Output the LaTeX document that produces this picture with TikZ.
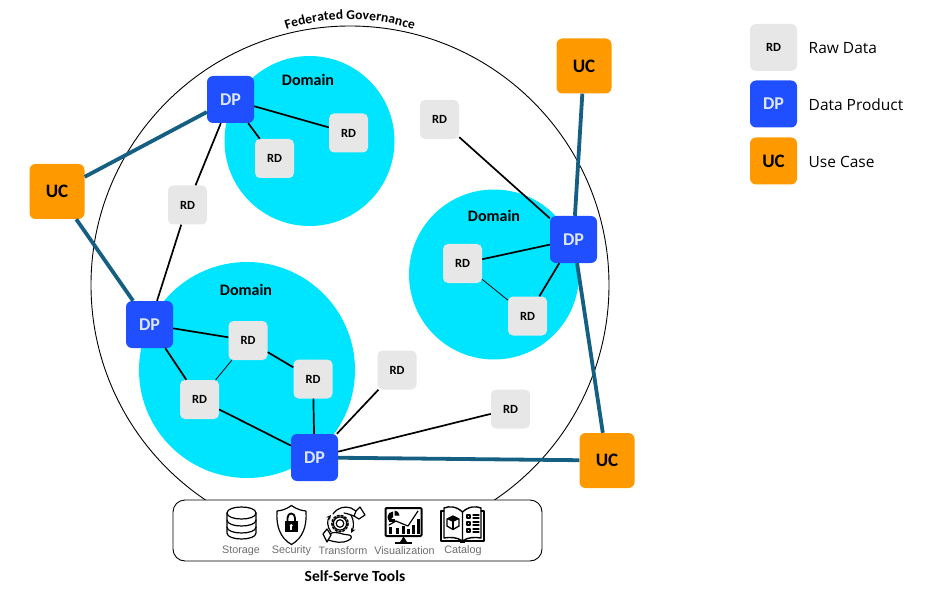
\documentclass[tikz,border=0pt]{standalone}
\usepackage{fontspec}
\setmainfont{Carlito}
\newfontfamily\legendfont{Open Sans}
\newfontfamily\iconfont{Liberation Sans}
\usetikzlibrary{decorations.text,positioning}
\definecolor{rdgray}{HTML}{E7E7E7}
\definecolor{dpblue}{HTML}{1F4FFF}
\definecolor{dptext}{HTML}{DCE6F5}
\definecolor{ucorange}{HTML}{FF9900}
\definecolor{domcyan}{HTML}{00E5FF}
\definecolor{linkteal}{HTML}{156082}
\definecolor{icongray}{HTML}{6E6E6E}
\tikzset{
  rdbox/.style={fill=rdgray,rounded corners=5pt,minimum size=39pt,inner sep=0pt,font=\bfseries\fontsize{12.5}{12.5}\selectfont},
  dpbox/.style={fill=dpblue,text=dptext,rounded corners=6pt,minimum size=47pt,inner sep=0pt,font=\bfseries\fontsize{18}{18}\selectfont},
  ucbox/.style={fill=ucorange,rounded corners=6pt,minimum size=55pt,inner sep=0pt,font=\bfseries\fontsize{19}{19}\selectfont},
  lgrd/.style={rdbox,minimum size=47pt,rounded corners=6pt},
  lguc/.style={ucbox,minimum size=47pt},
  lgtext/.style={anchor=west,inner sep=0pt,font=\legendfont\fontsize{15.5}{15.5}\selectfont},
  domtitle/.style={inner sep=0pt,font=\bfseries\fontsize{16}{16}\selectfont},
  domdisc/.style={fill=domcyan,circle,inner sep=0pt},
  thinlink/.style={line width=.8pt},
  datalink/.style={line width=1.7pt},
  uselink/.style={linkteal,line width=3.8pt},
  iconlabel/.style={inner sep=0pt,text=icongray,font=\iconfont\fontsize{10.8}{10.8}\selectfont},
  icn/.style={line width=1.2pt,line join=round,line cap=round}
}
\begin{document}
\begin{tikzpicture}[x=1pt,y=-1pt]
\useasboundingbox (0,0) rectangle (929,604);
% governance circle
\node[draw,circle,line width=.9pt,minimum size=518pt,inner sep=0pt] (gov) at (350,285) {};
\path[decorate,decoration={text along path,text align=center,raise=2.5pt,
  text={|\bfseries\fontsize{13.5}{13.5}\selectfont|Federated Governance}}]
  (276,36) .. controls (325,17) and (375,17) .. (424,36);
% domains
\node[domdisc,minimum size=170pt] (domA) at (309.5,141) {};
\node[domdisc,minimum size=170pt] (domB) at (494,274.5) {};
\node[domdisc,minimum size=216pt] (domC) at (247,370) {};
\node[domtitle] (tA) at (308,80) {Domain};
\node[domtitle] (tB) at (494,216) {Domain};
\node[domtitle] (tC) at (246,290) {Domain};
% nodes
\node[rdbox] (r1) at (348.5,133) {RD};
\node[rdbox] (r2) at (274.5,158.5) {RD};
\node[rdbox] (r3) at (187.5,205) {RD};
\node[rdbox] (r4) at (439.5,119.5) {RD};
\node[rdbox] (r5) at (462.5,263.5) {RD};
\node[rdbox] (r6) at (527.5,316) {RD};
\node[rdbox] (r7) at (248,340.5) {RD};
\node[rdbox] (r8) at (313,379) {RD};
\node[rdbox] (r9) at (199.5,399.5) {RD};
\node[rdbox] (r10) at (397,370) {RD};
\node[rdbox] (r11) at (510.5,409) {RD};
\node[dpbox] (d1) at (230.5,99.5) {DP};
\node[dpbox] (d2) at (573.5,239.5) {DP};
\node[dpbox] (d3) at (149.5,324.5) {DP};
\node[dpbox] (d4) at (314.5,457.5) {DP};
\node[ucbox] (u1) at (57,191.5) {UC};
\node[ucbox] (u2) at (584,66) {UC};
\node[ucbox] (u3) at (607,460.5) {UC};
% links
\draw[datalink] (d1)--(r1);
\draw[datalink] (d1)--(r2);
\draw[datalink] (d1)--(r3);
\draw[datalink] (r3)--(d3);
\draw[datalink] (r4)--(d2);
\draw[datalink] (d2)--(r5);
\draw[datalink] (d2)--(r6);
\draw[thinlink] (r5)--(r6);
\draw[datalink] (d3)--(r7);
\draw[datalink] (d3)--(r9);
\draw[datalink] (r7)--(r8);
\draw[thinlink] (r7)--(r9);
\draw[datalink] (r8)--(d4);
\draw[datalink] (r9)--(d4);
\draw[datalink] (d4)--(r10);
\draw[datalink] (d4)--(r11);
\draw[uselink] (u1)--(d1);
\draw[uselink] (u1)--(d3);
\draw[uselink] (u2)--(d2);
\draw[uselink] (d2)--(u3);
\draw[uselink] (d4)--(u3);
% tools box
\node[draw,fill=white,line width=.9pt,rounded corners=12pt,minimum width=369pt,minimum height=61pt,inner sep=0pt] (tools) at (357.5,530.5) {};
\node[inner sep=0pt,font=\bfseries\fontsize{15.5}{15.5}\selectfont] (toolstitle) at (355,576) {Self-Serve Tools};
\node[iconlabel] (l1) at (241,551) {Storage};
\node[iconlabel] (l2) at (291.5,551) {Security};
\node[iconlabel] (l3) at (343,551) {Transform};
\node[iconlabel] (l4) at (404.5,551) {Visualization};
\node[iconlabel] (l5) at (463,551) {Catalog};
\begin{scope}[icn]
% storage icon
\draw (227,513) .. controls (227,505) and (256,505) .. (256,513) .. controls (256,521) and (227,521) .. (227,513);
\draw (227,513) -- (227,533) .. controls (227,541) and (256,541) .. (256,533) -- (256,513);
\draw (227,520) .. controls (227,528) and (256,528) .. (256,520);
\draw (227,527) .. controls (227,535) and (256,535) .. (256,527);
% shield icon
\draw (291.5,505.5) .. controls (285,510) and (281,510.5) .. (277,511) .. controls (276,526) and (280,538) .. (291.5,544.5) .. controls (303,538) and (307,526) .. (306,511) .. controls (302,510.5) and (298,510) .. (291.5,505.5) -- cycle;
\fill (284.5,521) rectangle (298,532);
\draw[line width=1.8pt] (287.5,521) -- (287.5,518) .. controls (287.5,512) and (295,512) .. (295,518) -- (295,521);
\fill[white] (291.2,525.5) circle (1.6);
\fill[white] (290.4,526) rectangle (292,530);
% transform icon
\draw (333,514) .. controls (338,507) and (345,506) .. (351,508) -- (356,511) -- (354,516) .. controls (350,515) and (347,513) .. (344,513);
\draw (356,511) -- (360,507) -- (365,515) -- (359,519) -- (354,516);
\draw (323,534) -- (327,529) -- (331,535) -- (327,542) -- cycle;
\draw (330,534) .. controls (336,530) and (342,535) .. (349,535) .. controls (352,535) and (352,539) .. (349,540) .. controls (342,544) and (335,542) .. (328,540);
\draw (340,523.5) circle (3.8);
\draw (340,523.5) circle (6.6);
\draw[line width=1.6pt,dash pattern=on 2pt off 1.9pt] (340,523.5) circle (8.1);
\draw[->,>=stealth] (331,532) .. controls (327,527) and (327,520) .. (331,515);
\draw[->,>=stealth] (351,515) .. controls (354,520) and (354,527) .. (351,533);
% visualization icon
\draw[line width=2pt,rounded corners=1pt] (385.5,508) rectangle (421.5,536);
\fill (403.5,536.5) -- (407,542) -- (400,542) -- cycle;
\fill (395,541.5) rectangle (412,544);
\fill (393,517) -- (393,511.5) arc[start angle=-90,end angle=-230,radius=5.5] -- cycle;
\fill (394.5,515.5) -- (394.5,510.5) arc[start angle=-90,end angle=0,radius=5] -- cycle;
\fill (388.5,519) rectangle +(6,2.5);
\fill (402,526) rectangle +(3,8);
\fill (407,529) rectangle +(3,5);
\fill (412,525) rectangle +(3,9);
\fill (417,519) rectangle +(2.5,15);
\fill (389,527) rectangle +(3,7);
\fill (396,528) rectangle +(3,6);
\draw (389,525) -- (396,521) -- (403,524) -- (408,526) -- (418,511);
% catalog icon
\draw[line width=1.4pt] (462.5,512) .. controls (456,506) and (449,506) .. (444,508) -- (444,538) .. controls (450,537) and (457,537) .. (462.5,541) .. controls (468,537) and (475,537) .. (481,538) -- (481,508) .. controls (476,506) and (469,506) .. (462.5,512) -- (462.5,541);
\draw (444,511) -- (441,511) -- (441,541) -- (484,541) -- (484,511) -- (481,511);
\fill (460,541) rectangle (465,543);
\draw[line width=1.3pt] (453,516) -- (459,519) -- (459,526) -- (453,529.5) -- (447,526) -- (447,519) -- cycle;
\fill (447,519) -- (453,516) -- (459,519) -- (453,522) -- cycle;
\draw (453,522) -- (453,529.5);
\draw (467,515) rectangle +(3,3);
\draw (467,522) rectangle +(3,3);
\draw (467,529) rectangle +(3,3);
\draw (473,515) -- (479,515);\draw (473,518) -- (479,518);
\draw (473,522) -- (479,522);\draw (473,525) -- (479,525);
\draw (473,529) -- (479,529);\draw (473,532) -- (479,532);
\end{scope}
% legend
\node[lgrd] (lr) at (773.5,47.5) {RD};
\node[dpbox] (ld) at (773.5,104) {DP};
\node[lguc] (lu) at (773.5,161) {UC};
\node[lgtext] (tr) at (808.5,48) {Raw Data};
\node[lgtext] (td) at (808.5,105) {Data Product};
\node[lgtext] (tu) at (808.5,162) {Use Case};
\end{tikzpicture}
\end{document}
